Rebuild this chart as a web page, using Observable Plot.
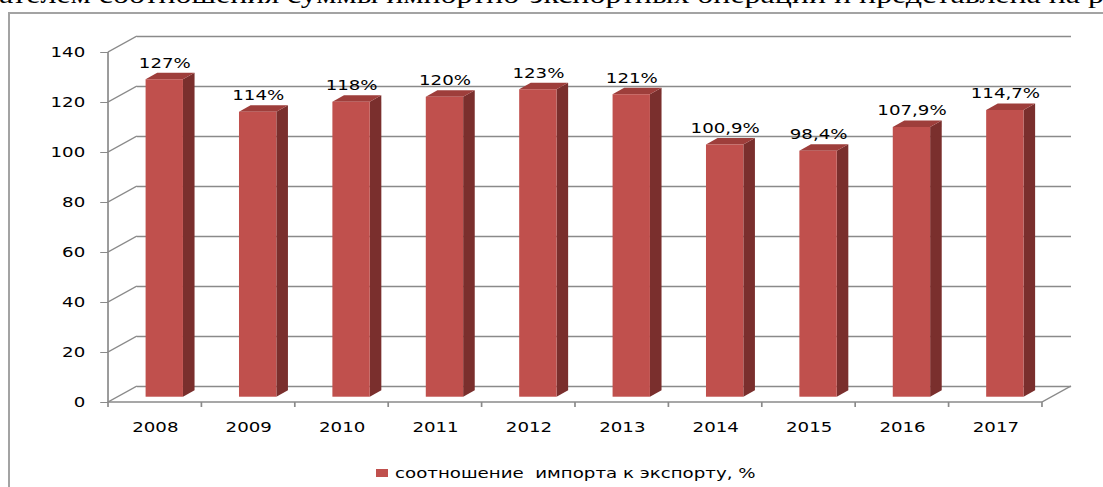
<!DOCTYPE html>
<html>
<head>
<meta charset="utf-8">
<script src="https://cdn.jsdelivr.net/npm/d3@7"></script>
<script src="https://cdn.jsdelivr.net/npm/@observablehq/plot@0.6"></script>
<style>
  html, body { margin: 0; padding: 0; background: #fff; }
  #wrap { position: relative; width: 1103px; height: 487px; overflow: hidden; background: #fff; }
  #topText { position: absolute; left: -1px; top: -18px; font-family: "Liberation Serif", "Times New Roman", serif;
             font-size: 25px; line-height: 25px; white-space: pre; color: #000; transform-origin: 0 0; }
  #box { position: absolute; left: 8px; top: 12px; width: 1300px; height: 700px;
         border-left: 2px solid #a3a3a3; border-top: 2px solid #a3a3a3; box-sizing: border-box; }
  #chart { position: absolute; left: 0; top: 0; }
  #chart svg { transform-origin: 0 0; }
  #legend { position: absolute; left: 376px; top: 465px; height: 16px; }
  #legend .sw { position: absolute; left: 0; top: 4px; width: 12px; height: 8px; background: #C0504D; }
  #legend .tx { position: absolute; left: 19px; top: 0; font-family: "DejaVu Sans", Verdana, sans-serif;
                font-size: 14px; line-height: 16px; white-space: pre; color: #000; transform-origin: 0 0; }
</style>
</head>
<body>
<div id="wrap">
  <div id="topText">ателем соотношения суммы импортно-экспортных операций и представлена на р</div>
  <div id="box"></div>
  <div id="chart"></div>
  <div id="legend"><div class="sw"></div><div class="tx" id="legendText"></div></div>
</div>
<script>
// ---- data ----
const years = ["2008", "2009", "2010", "2011", "2012", "2013", "2014", "2015", "2016", "2017"];
const values = [127, 114, 118, 120, 123, 121, 100.9, 98.4, 107.9, 114.7];
const valueLabels = ["127%", "114%", "118%", "120%", "123%", "121%", "100,9%", "98,4%", "107,9%", "114,7%"];
const yTicks = [0, 20, 40, 60, 80, 100, 120, 140];
const seriesName = "соотношение  импорта к экспорту, %";

// ---- style ----
const S = 1.3;                 // horizontal stretch of the original picture
const W = 1103 / S;
const DX = 22.3, DY = 16;      // 3D depth offset
const Z0 = 0.33, Z1 = 0.73;    // bar depth span
const GRID = "#8a8a8a";
const FRONT = "#C0504D", SIDE = "#7A2F2D", TOP = "#9E3E3B";
const FS = 14;

const data = years.map((year, i) => ({year, value: values[i], label: valueLabels[i]}));

const line = (g, x1, y1, x2, y2, color = GRID, w = 1.3) =>
  g.append("line").attr("x1", x1).attr("y1", y1).attr("x2", x2).attr("y2", y2)
   .attr("stroke", color).attr("stroke-width", w);

// back wall gridlines
const backWall = Plot.ruleY(yTicks, {stroke: GRID, strokeWidth: 1.3, dx: DX, dy: -DY});

// left wall: diagonals + front vertical axis line
const leftWall = Plot.ruleY(yTicks, {
  render: (index, scales, vals, dims) => {
    const g = d3.create("svg:g");
    const x0 = dims.marginLeft;
    let ymin = Infinity, ymax = -Infinity;
    for (const i of index) {
      const y = vals.y[i];
      ymin = Math.min(ymin, y); ymax = Math.max(ymax, y);
      line(g, x0, y, x0 + DX, y - DY);
    }
    line(g, x0, ymin, x0, ymax);
    return g.node();
  }
});

// floor: front edge, right diagonal, category boundary ticks
const floor = Plot.ruleY([0], {
  render: (index, scales, vals, dims) => {
    const g = d3.create("svg:g");
    const y0 = vals.y[index[0]];
    const xl = dims.marginLeft, xr = dims.width - dims.marginRight;
    line(g, xl, y0, xr, y0);
    line(g, xr, y0, xr + DX, y0 - DY);
    const bw = scales.x.bandwidth();
    const step = scales.x.step ? scales.x.step() : bw / 0.4;
    const bounds = years.map(yr => scales.x(yr) - (step - bw) / 2);
    bounds.push(scales.x(years[years.length - 1]) + bw + (step - bw) / 2);
    for (const b of bounds) line(g, b, y0, b, y0 + 5);
    return g.node();
  }
});

// 3D bars
const bars = Plot.barY(data, {
  x: "year", y: "value",
  render: (index, scales, vals, dims) => {
    const g = d3.create("svg:g");
    const bw = scales.x.bandwidth();
    const ddx = (Z1 - Z0) * DX, ddy = (Z1 - Z0) * DY;
    for (const i of index) {
      const x0 = vals.x[i] + Z0 * DX, x1 = x0 + bw;
      const yb = Math.max(vals.y1[i], vals.y2[i]) - Z0 * DY;
      const yt = Math.min(vals.y1[i], vals.y2[i]) - Z0 * DY;
      g.append("path").attr("fill", SIDE)
        .attr("d", `M${x1},${yt}L${x1 + ddx},${yt - ddy}L${x1 + ddx},${yb - ddy}L${x1},${yb}Z`);
      g.append("path").attr("fill", TOP)
        .attr("d", `M${x0},${yt}L${x0 + ddx},${yt - ddy}L${x1 + ddx},${yt - ddy}L${x1},${yt}Z`);
      g.append("rect").attr("fill", FRONT)
        .attr("x", x0).attr("y", yt).attr("width", bw).attr("height", yb - yt);
    }
    return g.node();
  }
});

const chart = Plot.plot({
  width: W,
  height: 448,
  marginLeft: 108 / S,
  marginRight: W - 1042 / S,
  marginTop: 52,
  marginBottom: 46,
  style: {fontFamily: "DejaVu Sans, Verdana, sans-serif", fontSize: FS + "px", color: "#000", background: "transparent", overflow: "visible"},
  x: {domain: years, paddingInner: 0.6, paddingOuter: 0.3, round: false, label: null},
  y: {domain: [0, 140], label: null},
  marks: [
    backWall,
    leftWall,
    floor,
    bars,
    Plot.text(data, {x: "year", y: "value", text: "label", dx: 7.3, dy: -21.8, fontSize: FS, fill: "#000"}),
    Plot.axisY(yTicks, {tickSize: 6, tickPadding: 12, stroke: GRID, fill: "#000", fontSize: FS, label: null}),
    Plot.axisX({tickSize: 0, tickPadding: 20, fill: "#000", fontSize: FS, label: null})
  ]
});
chart.style.transformOrigin = "0 0";
chart.style.transform = `scaleX(${S})`;
document.getElementById("chart").appendChild(chart);

// legend text
const lt = document.getElementById("legendText");
lt.textContent = seriesName;
lt.style.transform = `scaleX(${S})`;

// fit top (cut-off) paragraph line to the page width
const tt = document.getElementById("topText");
const w = tt.getBoundingClientRect().width;
tt.style.transform = `scaleX(${1105 / w})`;
</script>
</body>
</html>
